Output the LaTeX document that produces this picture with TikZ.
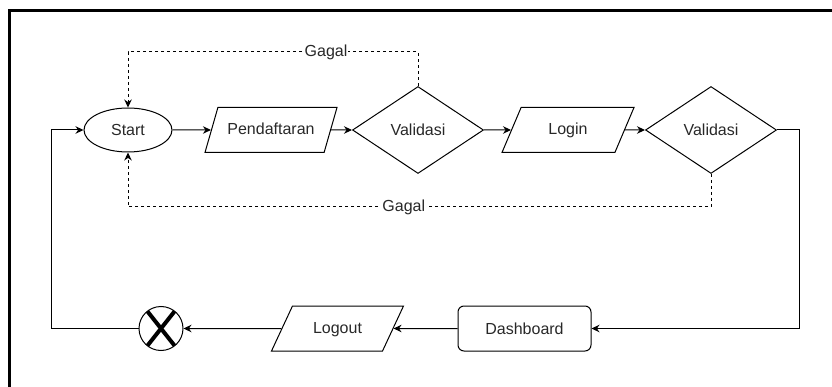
\documentclass[tikz,border=0pt]{standalone}
\usepackage{fontspec}
\setmainfont{Liberation Sans}
\usetikzlibrary{positioning,arrows.meta,shapes.geometric}
\definecolor{inkgray}{RGB}{40,40,40}

\begin{document}
\begin{tikzpicture}[
    x=1pt, y=-1pt,
    every node/.style={font=\fontsize{16}{19}\selectfont, text=inkgray},
    term/.style={ellipse, draw, line width=1pt, minimum width=88pt, minimum height=44pt, inner sep=0pt},
    io/.style={trapezium, draw, line width=1pt, trapezium left angle=#1, trapezium right angle=180-#1,
        trapezium stretches body=true, text height=12pt, text depth=2pt,
        inner xsep=0pt, inner ysep=15.5pt, minimum width=132pt},
    decision/.style={diamond, draw, line width=1pt, minimum width=131pt, minimum height=87pt, inner sep=0pt},
    proc/.style={rectangle, rounded corners=6pt, draw, line width=1pt, minimum width=133pt, minimum height=45pt},
    stopnode/.style={circle, draw, line width=1pt, minimum size=44pt, inner sep=0pt,
        path picture={\draw[line width=4pt, line cap=butt]
            ([shift={(-15pt,-19pt)}]path picture bounding box.center) -- ([shift={(15pt,19pt)}]path picture bounding box.center)
            ([shift={(15pt,-19pt)}]path picture bounding box.center) -- ([shift={(-15pt,19pt)}]path picture bounding box.center);}},
    arrow/.style={-{Stealth[length=8pt, width=7.5pt]}, line width=1pt},
    fail/.style={-{Stealth[length=8pt, width=7.5pt]}, line width=1pt, dash pattern=on 3pt off 3pt},
    lbl/.style={fill=white, inner sep=1pt}
]
\useasboundingbox (0,0) rectangle (832,387);

% frame
\draw[line width=3pt] (9,387) -- (9,10.5) -- (832,10.5);

% top row
\node[term] (start) at (128,130) {Start};
\node[io=74] (daftar) at (271,130) {Pendaftaran};
\node[decision] (valid1) at (418,130) {Validasi};
\node[io=67] (login) at (568,130) {Login};
\node[decision] (valid2) at (711,130) {Validasi};

% bottom row
\node[proc] (dash) at (524.5,328.5) {Dashboard};
\node[io=65] (logout) at (337.5,328.5) {Logout};
\node[stopnode] (stop) at (161,328.5) {};

\draw[arrow] (start) -- (daftar);
\draw[arrow] (daftar) -- (valid1);
\draw[arrow] (valid1) -- (login);
\draw[arrow] (login) -- (valid2);
\draw[arrow] (valid2.east) -- ++(22,0) |- (dash.east);
\draw[arrow] (dash) -- (logout);
\draw[arrow] (logout) -- (stop);
\draw[arrow] (stop.west) -- ++(-87,0) |- (start.west);

% gagal
\draw[fail] (valid1.north) -- (valid1.north |- 0,52) -- node[lbl, pos=0.317] {Gagal} (start.north |- 0,52) -- (start.north);
\draw[fail] (valid2.south) -- (valid2.south |- 0,207) -- node[lbl, pos=0.527] {Gagal} (start.south |- 0,207) -- (start.south);

\end{tikzpicture}
\end{document}
